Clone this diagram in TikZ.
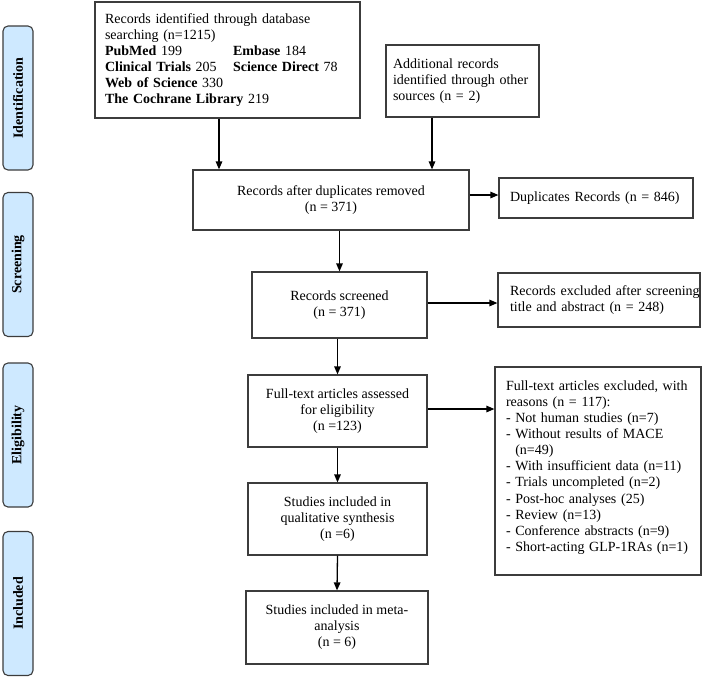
\documentclass[tikz,border=0pt]{standalone}
\usepackage{fontspec}
\setmainfont{Liberation Serif}
\usetikzlibrary{arrows.meta}
\definecolor{labfill}{RGB}{206,233,255}
\definecolor{boxline}{RGB}{60,60,60}
\begin{document}
\begin{tikzpicture}[x=1pt,y=-1pt,
  every node/.style={font=\fontsize{14}{16.1}\selectfont},
  box/.style={draw=boxline, line width=1.2pt, rectangle, inner sep=0pt},
  cbox/.style={box, align=center},
  lbox/.style={box, align=left},
  lab/.style={draw=boxline, line width=1.1pt, fill=labfill, rounded corners=5pt,
    rotate=90, minimum width=144pt, minimum height=30pt, inner sep=0pt,
    font=\fontsize{14}{16.1}\selectfont\bfseries},
  arr/.style={line width=1.3pt, -{Triangle[length=8pt,width=6.5pt]}}
]
\useasboundingbox (0,0) rectangle (708,678);

% stage labels
\node[lab] (lid) at (18,98) {Identification};
\node[lab] (lsc) at (18,264.5) {Screening};
\node[lab] (lel) at (18,435) {Eligibility};
\node[lab] (lin) at (18,603.5) {Included};

% boxes
\node[lbox, minimum width=265pt, minimum height=116pt, inner xsep=10pt, text width=245pt] (db) at (227.5,60)
{Records identified through database\\
searching (n=1215)\\
\makebox[128pt][l]{\textbf{PubMed} 199}\textbf{Embase} 184\\
\makebox[128pt][l]{\textbf{Clinical Trials} 205}\textbf{Science Direct} 78\\
\textbf{Web of Science} 330\\
\textbf{The Cochrane Library} 219};

\node[lbox, minimum width=153pt, minimum height=72pt, inner xsep=7pt, text width=139pt] (add) at (462.5,81)
{Additional records\\ identified through other\\ sources (n = 2)};

\node[cbox, minimum width=276pt, minimum height=60pt] (dup) at (331,200)
{Records after duplicates removed\\ (n = 371)};

\node[lbox, minimum width=194pt, minimum height=40pt, inner xsep=11pt, text width=172pt] (duprec) at (596,198)
{Duplicates Records (n = 846)};

\node[cbox, minimum width=175pt, minimum height=66pt] (scr) at (339.5,305)
{Records screened\\ (n = 371)};

\node[lbox, minimum width=202pt, minimum height=54pt, inner xsep=12pt, text width=178pt] (exc1) at (599,300)
{\mbox{Records excluded after screening}\\ title and abstract (n = 248)};

\node[cbox, minimum width=179pt, minimum height=72pt] (full) at (337.5,411)
{Full-text articles assessed\\ for eligibility\\ (n =123)};

\node[cbox, minimum width=179pt, minimum height=72pt] (qual) at (337.5,519)
{Studies included in\\ qualitative synthesis\\ (n =6)};

\node[cbox, minimum width=182pt, minimum height=73pt] (meta) at (337,627.5)
{Studies included in meta-\\ analysis\\ (n = 6)};

\node[lbox, minimum width=206pt, minimum height=208pt, inner xsep=11pt, text width=184pt] (exc2) at (598,471)
{Full-text articles excluded, with\\
reasons (n = 117):\\
- Not human studies (n=7)\\
- Without results of MACE\\
\phantom{- }(n=49)\\
- With insufficient data (n=11)\\
- Trials uncompleted (n=2)\\
- Post-hoc analyses (25)\\
- Review (n=13)\\
- Conference abstracts (n=9)\\
- Short-acting GLP-1RAs (n=1)\\[-6pt]\mbox{}};

% connector guide coordinates
\coordinate (xa) at (219,0);
\coordinate (xb) at (432,0);
\coordinate (yd) at (0,195);
\coordinate (ys) at (0,303);
\coordinate (yf) at (0,409);

% connectors
\draw[arr] (db.south -| xa) -- (dup.north -| xa);
\draw[arr] (add.south -| xb) -- (dup.north -| xb);
\draw[arr] (dup.east |- yd) -- (duprec.west |- yd);
\draw[arr] (dup.south -| scr.north) -- (scr.north);
\draw[arr] (scr.east |- ys) -- (exc1.west |- ys);
\draw[arr] (scr.south -| full.north) -- (full.north);
\draw[arr] (full.east |- yf) -- (exc2.west |- yf);
\draw[arr] (full.south) -- (qual.north);
\draw[arr] (qual.south) -- (meta.north);
\end{tikzpicture}
\end{document}
